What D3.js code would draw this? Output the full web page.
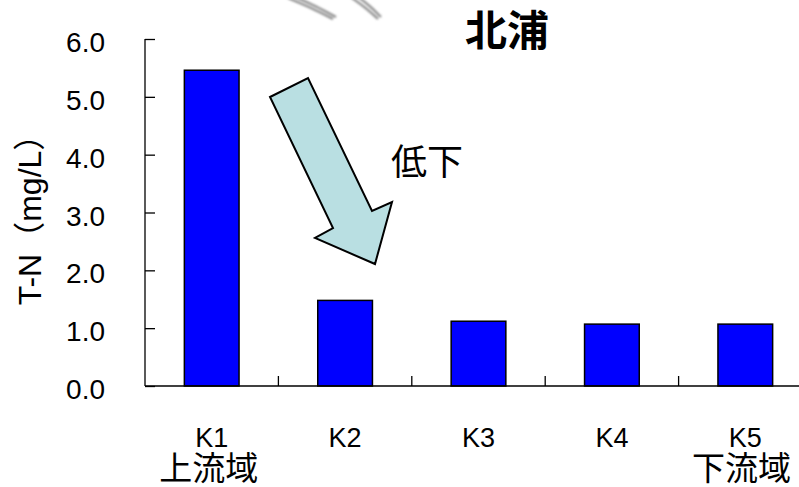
<!DOCTYPE html>
<html>
<head>
<meta charset="utf-8">
<script src="https://cdn.jsdelivr.net/npm/d3@7"></script>
<style>
  html, body { margin: 0; padding: 0; background: #fff; }
  svg { display: block; }
</style>
</head>
<body>
<svg id="chart" width="799" height="487"></svg>
<script>
// Sampling stations along the river, upstream to downstream
const stations = ["K1", "K2", "K3", "K4", "K5"];
const reach = ["上流域", "", "", "", "下流域"];
// Total nitrogen (mg/L)
const tnValues = [5.46, 1.48, 1.12, 1.07, 1.07];
const yTicks = [0, 1, 2, 3, 4, 5, 6];

const svg = d3.select("#chart");
const latin = "'Liberation Sans', Arial, sans-serif";
const cjk = "'Noto Sans CJK JP', sans-serif";

const x0 = 145, x1 = 812, yTop = 39, yBase = 386;

const x = d3.scaleBand()
  .domain(stations)
  .range([x0, x1])
  .paddingInner(0.59)
  .paddingOuter(0.295);

const y = d3.scaleLinear().domain([0, 6]).range([yBase, yTop]);

// faint decorative strokes at the top edge
svg.append("defs").append("filter").attr("id", "soft")
  .append("feGaussianBlur").attr("stdDeviation", 0.9);
const deco = svg.append("g").attr("filter", "url(#soft)");
[[[288, -2], [312, 8], [333, 19]], [[293, -4], [316, 6], [336, 17]],
 [[352, -2], [366, 8], [378, 19]], [[357, -4], [370, 6], [381, 17]]].forEach(pts => {
  deco.append("path")
    .attr("d", d3.line().curve(d3.curveBasis)(pts))
    .attr("fill", "none")
    .attr("stroke", "#8a8a8a")
    .attr("stroke-width", 2.2);
});

// bars
svg.append("g").selectAll("rect")
  .data(stations)
  .join("rect")
  .attr("x", d => x(d))
  .attr("y", (d, i) => y(tnValues[i]))
  .attr("width", x.bandwidth())
  .attr("height", (d, i) => yBase - y(tnValues[i]))
  .attr("fill", "#0000ff")
  .attr("stroke", "#000")
  .attr("stroke-width", 1.5);

// y axis with inward ticks
const yAxis = svg.append("g")
  .attr("transform", `translate(${x0},0)`)
  .call(d3.axisRight(y).tickValues(yTicks).tickSize(10).tickFormat(""));
yAxis.select(".domain").attr("d", `M0,${yTop}V${yBase}`).attr("stroke", "#000").attr("stroke-width", 1.3);
yAxis.selectAll(".tick line").attr("stroke", "#000").attr("stroke-width", 1.3);

svg.append("g").selectAll("text")
  .data(yTicks)
  .join("text")
  .attr("x", 105)
  .attr("y", d => y(d) + 13)
  .attr("text-anchor", "end")
  .attr("font-family", latin)
  .attr("font-size", 28)
  .attr("fill", "#000")
  .text(d => d3.format(".1f")(d));

// x axis with inward separators between stations
const xAxis = svg.append("g").attr("transform", `translate(0,${yBase})`);
xAxis.append("line")
  .attr("x1", x0).attr("x2", 799)
  .attr("stroke", "#000").attr("stroke-width", 1.5);
const bounds = stations.slice(1).map(s => x(s) - x.step() * x.paddingInner() / 2);
xAxis.selectAll(".sep")
  .data(bounds)
  .join("line")
  .attr("class", "sep")
  .attr("x1", d => d).attr("x2", d => d)
  .attr("y1", 0).attr("y2", -10)
  .attr("stroke", "#000").attr("stroke-width", 1.3);

const cx = d => x(d) + x.bandwidth() / 2;
svg.append("g").selectAll("text")
  .data(stations)
  .join("text")
  .attr("x", cx)
  .attr("y", 447)
  .attr("text-anchor", "middle")
  .attr("font-family", latin)
  .attr("font-size", 27)
  .text(d => d);
svg.append("g").selectAll("text")
  .data(stations)
  .join("text")
  .attr("x", (d, i) => i === stations.length - 1 ? 791 : cx(d) - 3)
  .attr("y", 480)
  .attr("text-anchor", (d, i) => i === stations.length - 1 ? "end" : "middle")
  .attr("font-family", cjk)
  .attr("font-size", 33)
  .text((d, i) => reach[i]);

// y-axis title: latin parts with full-width brackets
const yTitle = svg.append("text")
  .attr("transform", "translate(41,212) rotate(-90)")
  .attr("text-anchor", "middle")
  .attr("font-size", 32);
[["T-N", latin], ["（", cjk], ["mg/L", latin], ["）", cjk]].forEach(([t, f]) => {
  yTitle.append("tspan").attr("font-family", f).text(t);
});

// chart title
svg.append("text")
  .attr("x", 507).attr("y", 46)
  .attr("text-anchor", "middle")
  .attr("font-family", cjk)
  .attr("font-weight", "bold")
  .attr("font-size", 42)
  .text("北浦");

// downward trend arrow
const arrowPts = [[270, 97], [308, 78], [372, 211], [392, 202], [375, 264], [315, 238], [333, 228]];
svg.append("path")
  .attr("d", d3.line()(arrowPts) + "Z")
  .attr("fill", "#b9dfe2")
  .attr("stroke", "#000")
  .attr("stroke-width", 2)
  .attr("stroke-linejoin", "miter");

svg.append("text")
  .attr("x", 391).attr("y", 175)
  .attr("text-anchor", "start")
  .attr("font-family", cjk)
  .attr("font-size", 36)
  .text("低下");
</script>
</body>
</html>
